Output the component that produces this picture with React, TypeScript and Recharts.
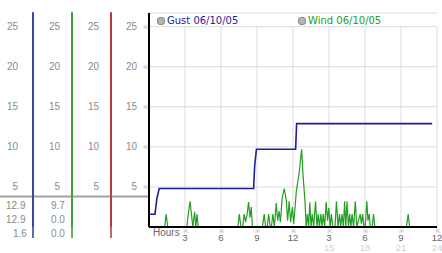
import React from 'react';
import { ComposedChart, Line, XAxis, YAxis, CartesianGrid, ReferenceLine } from 'recharts';

// hours since midnight, speeds in knots
const hourTicks = [0, 3, 6, 9, 12, 15, 18, 21, 24];
const gridHours = [3, 6, 9, 12, 15, 18, 21, 24];
const speedTicks = [5, 10, 15, 20, 25];

const gustHours = [0, 0.5, 0.65, 0.85, 8.72, 8.8, 8.95, 12.22, 12.3, 23.6];
const gustSpeeds = [1.6, 1.6, 3.5, 4.8, 4.8, 7.5, 9.7, 9.7, 12.9, 12.9];

const windHours = [
  0, 1.3, 1.43, 1.56, 3.15, 3.28, 3.42, 3.55, 3.65, 3.8, 3.9, 4.0, 4.1,
  7.4, 7.53, 7.66, 7.8, 7.93, 8.05, 8.18, 8.3, 8.42, 8.52, 8.62,
  9.45, 9.6, 9.72, 9.85, 9.97, 10.1, 10.2, 10.32, 10.45, 10.6, 10.72, 10.84, 10.95,
  11.1, 11.28, 11.45, 11.55, 11.68, 11.8, 11.95, 12.06, 12.17, 12.28, 12.5, 12.72, 12.83,
  13.0, 13.1, 13.2, 13.3, 13.4, 13.5, 13.6, 13.72, 13.88, 14.0, 14.1, 14.2, 14.32, 14.42,
  14.52, 14.64, 14.76, 14.88, 14.98, 15.1, 15.2, 15.32, 15.5, 15.62, 15.75, 15.87, 15.97,
  16.08, 16.2, 16.3, 16.4, 16.5, 16.62, 16.72, 16.82, 16.92, 17.05, 17.19, 17.32,
  17.6, 17.7, 17.8, 17.92, 18.02, 18.15, 18.25, 18.35, 18.45, 18.6, 18.71, 18.82,
  21.45, 21.6, 21.72, 23.9,
];
const windSpeeds = [
  0, 0, 1.6, 0, 0, 1.7, 3.2, 1.4, 0, 1.9, 0, 1.6, 0,
  0, 1.6, 0, 0, 1.6, 0.6, 1.6, 3.1, 1.2, 2.5, 0,
  0, 1.6, 0, 0, 1.6, 0, 0, 1.6, 0, 3.0, 0.8, 2.0, 0.6,
  3.7, 4.8, 3.2, 0.8, 3.2, 0.6, 2.5, 0.4, 2.4, 4.5, 6.6, 9.7, 6.6,
  3.2, 0, 1.6, 0, 3.1, 0, 1.6, 0, 3.2, 0, 1.6, 0, 1.6, 0,
  1.6, 0, 3.1, 0.8, 2.4, 0, 1.6, 0, 0, 3.2, 0, 1.6, 0,
  1.6, 0, 3.2, 0, 3.2, 0, 1.6, 0, 1.6, 0, 3.2, 0,
  1.6, 0.4, 1.6, 0, 0, 3.2, 0.8, 1.6, 0, 0, 1.6, 0,
  0, 1.6, 0, 0,
];

const gustSummary = ['12.9', '12.9', '1.6'];
const windSummary = ['9.7', '0.0', '0.0'];

const gustData = gustHours.map((h, i) => ({ h, v: gustSpeeds[i] }));
const windData = windHours.map((h, i) => ({ h, v: windSpeeds[i] }));

const FONT = '"Liberation Sans", Arial, sans-serif';

const speedTick = (gap: number, mark: boolean) => (props: any) => {
  const { x, y, payload } = props;
  return (
    <g>
      <text x={x - gap} y={y + 3.5} textAnchor="end" fontSize={10} fill="#8a8a8a" fontFamily={FONT}>
        {payload.value}
      </text>
      {mark && (
        <text x={x - 4} y={y + 2.5} textAnchor="middle" fontSize={6} fill="#aaa" fontFamily={FONT}>※</text>
      )}
    </g>
  );
};

function HourTick(props: any) {
  const { x, y, payload } = props;
  const v = payload.value;
  if (v === 0) {
    return (
      <text x={x + 4} y={y + 8.5} fontSize={10} fill="#666" fontFamily={FONT}>Hours</text>
    );
  }
  return (
    <g>
      <text x={x} y={y + 5.5} textAnchor="middle" fontSize={6} fill="#aaa" fontFamily={FONT}>※</text>
      <text x={x} y={y + 14} textAnchor="middle" fontSize={9.5} fill="#666" fontFamily={FONT}>
        {v > 12 ? v - 12 : v}
      </text>
      {v > 12 && (
        <text x={x} y={y + 23.5} textAnchor="middle" fontSize={9.5} fill="#d0d0d0" fontFamily={FONT}>{v}</text>
      )}
    </g>
  );
}

export default function App() {
  return (
    <div style={{ position: 'absolute', left: 0, top: 0, width: 442, height: 253, background: '#fff' }}>
      <ComposedChart width={442} height={253} margin={{ top: 13, right: 5, bottom: 0, left: 0 }}>
        <CartesianGrid yAxisId="a_main" vertical={false} stroke="#dcdcdc" />
        <XAxis
          dataKey="h" type="number" domain={[0, 24]} ticks={hourTicks} allowDataOverflow
          height={26} tickSize={0} tickMargin={0} tick={HourTick} interval={0}
          axisLine={{ stroke: '#000', strokeWidth: 2 }}
        />
        {/* left axes are stacked by id order, a_ next to the plot */}
        <YAxis yAxisId="a_main" type="number" domain={[0, 26.7]} ticks={speedTicks} allowDataOverflow
          width={38} tickSize={0} tickMargin={0} tick={speedTick(12, true)} interval={0}
          axisLine={{ stroke: '#000', strokeWidth: 2 }} />
        <YAxis yAxisId="b_red" type="number" domain={[0, 26.7]} ticks={speedTicks} allowDataOverflow
          width={39} tickSize={0} tickMargin={0} tick={speedTick(12, false)} interval={0}
          axisLine={{ stroke: '#b03030', strokeWidth: 1.5 }} />
        <YAxis yAxisId="c_green" type="number" domain={[0, 26.7]} ticks={speedTicks} allowDataOverflow
          width={39} tickSize={0} tickMargin={0} tick={speedTick(12, false)} interval={0}
          axisLine={{ stroke: '#2a9a2a', strokeWidth: 1.5 }} />
        <YAxis yAxisId="d_blue" type="number" domain={[0, 26.7]} ticks={speedTicks} allowDataOverflow
          width={33} tickSize={0} tickMargin={0} tick={speedTick(15, false)} interval={0}
          axisLine={{ stroke: '#2a3a9a', strokeWidth: 1.5 }} />
        {gridHours.map(h => (
          <ReferenceLine key={h} yAxisId="a_main" segment={[{ x: h, y: 0 }, { x: h, y: 25 }]} stroke="#dcdcdc" />
        ))}
        <Line yAxisId="a_main" data={windData} dataKey="v" type="linear" stroke="#22a022" strokeWidth={1.2}
          dot={false} isAnimationActive={false} />
        <Line yAxisId="a_main" data={gustData} dataKey="v" type="linear" stroke="#1e1e96" strokeWidth={1.6}
          dot={false} isAnimationActive={false} />
      </ComposedChart>

      <svg width={442} height={253} style={{ position: 'absolute', left: 0, top: 0, pointerEvents: 'none' }}>
        <line x1={0} y1={196.5} x2={148} y2={196.5} stroke="#a0a0a0" strokeWidth={2} />
        <line x1={33} y1={12} x2={33} y2={238} stroke="#2a3a9a" strokeWidth={1.5} />
        <line x1={72} y1={12} x2={72} y2={238} stroke="#2a9a2a" strokeWidth={1.5} />
        <line x1={111} y1={12} x2={111} y2={238} stroke="#b03030" strokeWidth={1.5} />
        {gustSummary.map((s, i) => (
          <text key={'g' + i} x={i === 2 ? 13 : 6} y={209 + i * 14} fontSize={10} fill="#8a8a8a" fontFamily={FONT}>{s}</text>
        ))}
        {windSummary.map((s, i) => (
          <text key={'w' + i} x={51} y={209 + i * 14} fontSize={10} fill="#8a8a8a" fontFamily={FONT}>{s}</text>
        ))}
      </svg>

      <div style={{ position: 'absolute', left: 157, top: 14, fontFamily: '"DejaVu Sans", Verdana, sans-serif', fontSize: 10, color: '#1e1e96', whiteSpace: 'nowrap', lineHeight: '13px' }}>
        <span style={{ display: 'inline-block', width: 6, height: 6, borderRadius: 3, background: '#b4b4b4', border: '0.5px solid #888', marginRight: 2, verticalAlign: 'middle' }} />
        Gust 06/10/05
      </div>
      <div style={{ position: 'absolute', left: 298, top: 14, fontFamily: '"DejaVu Sans", Verdana, sans-serif', fontSize: 10, color: '#22a022', whiteSpace: 'nowrap', lineHeight: '13px' }}>
        <span style={{ display: 'inline-block', width: 6, height: 6, borderRadius: 3, background: '#b4b4b4', border: '0.5px solid #888', marginRight: 2, verticalAlign: 'middle' }} />
        Wind 06/10/05
      </div>
    </div>
  );
}
